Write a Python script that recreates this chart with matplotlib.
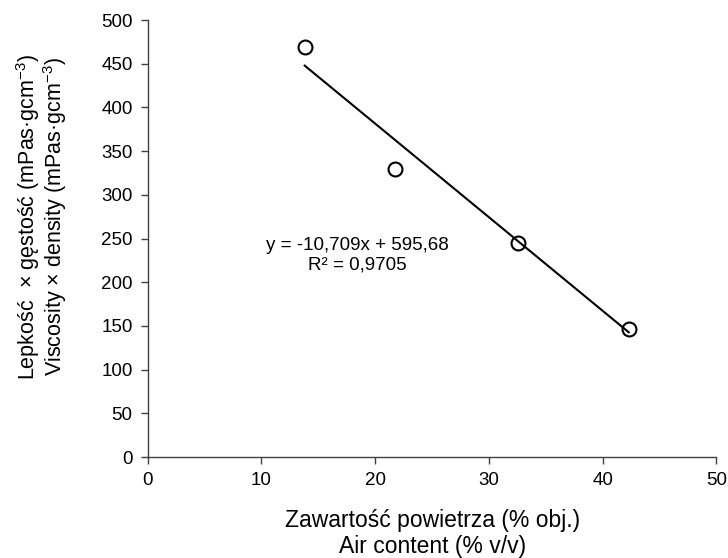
import matplotlib
matplotlib.use("Agg")
import matplotlib.pyplot as plt

plt.rcParams["font.family"] = ["Liberation Sans", "DejaVu Sans"]
plt.rcParams["mathtext.fontset"] = "custom"
plt.rcParams["mathtext.rm"] = "Liberation Sans"
plt.rcParams["mathtext.it"] = "Liberation Sans"

# data
air_content = [13.8, 21.7, 32.6, 42.3]
visc_density = [469, 330, 245, 147]

# Excel linear trendline, as printed on the chart
slope = -10.709
intercept = 595.68
r2 = 0.9705

x_ticks = [0, 10, 20, 30, 40, 50]
y_ticks = [0, 50, 100, 150, 200, 250, 300, 350, 400, 450, 500]

fig = plt.figure(figsize=(7.28, 5.58), dpi=100)
ax = fig.add_axes([0.203, 0.181, 0.781, 0.783])

x0, x1 = min(air_content), max(air_content)
ax.plot([x0, x1], [slope * x0 + intercept, slope * x1 + intercept],
        color="black", lw=1.5, zorder=2)
ax.plot(air_content, visc_density, "o", ms=10, mfc="none", mec="black",
        mew=1.5, zorder=3)

eq = (f"y = {slope:.3f}x + {intercept:.2f}".replace(".", ",")
      + "\n" + f"R² = {r2:.4f}".replace(".", ","))
ax.text(18.4, 231, eq, ha="center", va="center", fontsize=13.5,
        linespacing=1.2)

ax.set_xlim(0, 50)
ax.set_ylim(0, 500)
ax.set_xticks(x_ticks)
ax.set_yticks(y_ticks)
ax.tick_params(axis="both", direction="out", length=5, width=1,
               color="#404040", labelsize=13.5, pad=6)

for side in ("top", "right"):
    ax.spines[side].set_visible(False)
for side in ("left", "bottom"):
    ax.spines[side].set_color("#404040")
    ax.spines[side].set_linewidth(1)

ax.set_xlabel("Zawartość powietrza (% obj.)\nAir content (% v/v)",
              fontsize=16.5, labelpad=14, linespacing=1.2)
ax.set_ylabel("Lepkość  × gęstość (mPas·gcm$^{-3}$)\n"
              "Viscosity × density (mPas·gcm$^{-3}$)",
              fontsize=15.5, linespacing=0.95)
ax.yaxis.set_label_coords(-0.139, 0.55)

fig.savefig("out.png", dpi=100)
